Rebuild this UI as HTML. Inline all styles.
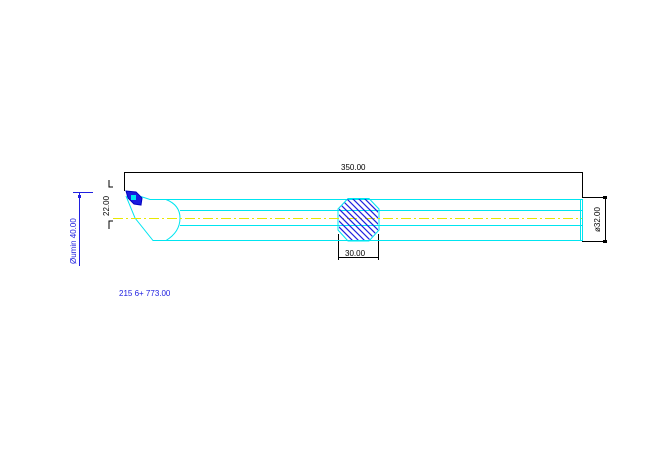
<!DOCTYPE html>
<html><head><style>
html,body{margin:0;padding:0;background:#fff;width:670px;height:460px;overflow:hidden}
svg{display:block}
text{font-family:"Liberation Sans",sans-serif;font-size:8px}
</style></head><body>
<svg width="670" height="460" viewBox="0 0 670 460">
<!-- top dimension -->
<g stroke="#000" stroke-width="1" fill="none">
<line x1="124" y1="172.5" x2="582" y2="172.5"/>
<line x1="124.5" y1="172" x2="124.5" y2="191"/>
<line x1="582.5" y1="172" x2="582.5" y2="198"/>
<line x1="582" y1="197.5" x2="607" y2="197.5"/>
<line x1="582" y1="241.5" x2="607" y2="241.5"/>
<line x1="605.5" y1="197" x2="605.5" y2="242"/>
<line x1="338.5" y1="234" x2="338.5" y2="260"/>
<line x1="378.5" y1="234" x2="378.5" y2="260"/>
<line x1="338" y1="257.5" x2="379" y2="257.5"/>
<polyline points="113,187 109,187 109,180"/>
<polyline points="113,221 109,221 109,229"/>
</g>
<rect x="603" y="196" width="4" height="3" fill="#000"/>
<rect x="603" y="240" width="4" height="3" fill="#000"/>
<text x="341" y="170">350.00</text>
<text x="345" y="256">30.00</text>
<text transform="translate(600,232) rotate(-90)">ø32.00</text>
<text transform="translate(109,216) rotate(-90)">22.00</text>
<!-- bar -->
<g stroke="#00e5f0" stroke-width="1" fill="none">
<line x1="150" y1="199.5" x2="583" y2="199.5"/>
<line x1="180" y1="210.5" x2="583" y2="210.5"/>
<line x1="180" y1="225.5" x2="583" y2="225.5"/>
<line x1="153" y1="240.5" x2="583" y2="240.5"/>
<line x1="582.5" y1="199" x2="582.5" y2="241"/>
<line x1="580.5" y1="199" x2="580.5" y2="241"/>
<path d="M127,192 L150,199.5 L166,199.5 Q180,205 180,218 Q180,232 166,240.5 L153,240.5 L135,218 L126,196"/>
<polygon points="348,198.5 369,198.5 379,209 379,230 369,241 348,241 338,230 338,209"/>
</g>
<line x1="113" y1="218.5" x2="582" y2="218.5" stroke="#e8e800" stroke-width="1" stroke-dasharray="10,3,2,3"/>
<!-- hatch -->
<clipPath id="oc"><polygon points="348,199 369,199 378,209 378,230 369,240 348,240 339,230 339,209"/></clipPath>
<g clip-path="url(#oc)" stroke="#2020e0" stroke-width="1.2">
<line x1="320" y1="190" x2="380" y2="250"/><line x1="326" y1="190" x2="386" y2="250"/>
<line x1="332" y1="190" x2="392" y2="250"/><line x1="338" y1="190" x2="398" y2="250"/>
<line x1="344" y1="190" x2="404" y2="250"/><line x1="350" y1="190" x2="410" y2="250"/>
<line x1="314" y1="190" x2="374" y2="250"/><line x1="308" y1="190" x2="368" y2="250"/>
<line x1="302" y1="190" x2="362" y2="250"/><line x1="356" y1="190" x2="416" y2="250"/>
</g>
<!-- insert -->
<path d="M126,191 L136,192 L142,198 L141,205 L134,204 L128,198 Z" fill="#1a1ae0" stroke="#0000c0"/>
<rect x="131" y="195" width="5" height="5" fill="#00e5f0"/>
<!-- left min dim -->
<line x1="79.5" y1="192" x2="79.5" y2="266" stroke="#2020e0"/>
<line x1="73" y1="192.5" x2="93" y2="192.5" stroke="#2020e0"/>
<rect x="78" y="195" width="3" height="3" fill="#2020e0"/>
<text transform="translate(76,264) rotate(-90)" fill="#2020e0">Øumin 40.00</text>
<text x="119" y="296" fill="#2020e0">215 6+ 773.00</text>
</svg>
</body></html>
